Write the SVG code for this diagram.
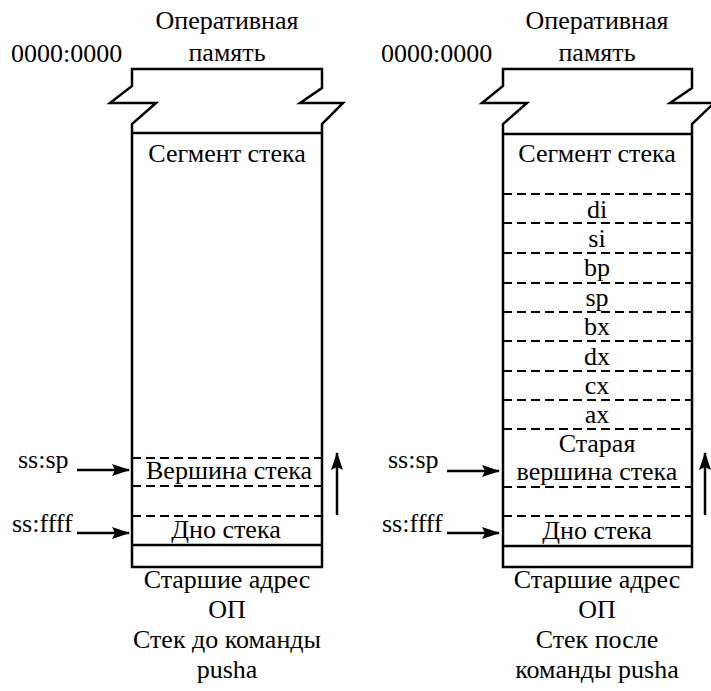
<svg xmlns="http://www.w3.org/2000/svg" width="711" height="691" viewBox="0 0 711 691">
  <defs>
    <marker id="head" viewBox="0 0 18 12" refX="17" refY="6" markerWidth="18" markerHeight="12" markerUnits="userSpaceOnUse" orient="auto">
      <path d="M0,0 L18,6 L0,12 L3,6 Z" fill="#000"/>
    </marker>
  </defs>

  <!-- Stack before PUSHA -->
  <g id="stack-before">
    <g fill="none" stroke="#000" stroke-width="2.5">
      <path d="M132,567 L132,124 L156,103 L110,103 L132,86 L132,69 L322,69 L322,88 L300,103 L343,103 L322,124 L322,567 Z"/>
      <line x1="132" y1="133" x2="322" y2="133"/>
      <line x1="132" y1="545" x2="322" y2="545"/>
    </g>
    <g stroke="#000" stroke-width="2" stroke-dasharray="9 5">
      <line x1="132" y1="458" x2="322" y2="458"/>
      <line x1="132" y1="486" x2="322" y2="486"/>
      <line x1="132" y1="516" x2="322" y2="516"/>
    </g>
    <g font-family="Times New Roman, Liberation Serif, Tinos, serif" font-size="26" fill="#000" text-anchor="middle">
      <text x="227" y="29">Оперативная</text>
      <text x="227" y="61">память</text>
      <text x="227" y="162">Сегмент стека</text>
      <text x="229" y="479">Вершина стека</text>
      <text x="226" y="538">Дно стека</text>
      <text x="227" y="588">Старшие адрес</text>
      <text x="227" y="618">ОП</text>
      <text x="227" y="648">Стек до команды</text>
      <text x="227" y="678">pusha</text>
    </g>
    <text font-family="Times New Roman, Liberation Serif, Tinos, serif" font-size="26" x="11" y="62">0000:0000</text>
  </g>

  <!-- Stack after PUSHA -->
  <g id="stack-after">
    <g fill="none" stroke="#000" stroke-width="2.5">
      <path d="M503,567 L503,124 L527,103 L482,103 L503,86 L503,69 L692,69 L692,88 L670,103 L714,103 L692,124 L692,567 Z"/>
      <line x1="503" y1="134" x2="692" y2="134"/>
      <line x1="503" y1="546" x2="692" y2="546"/>
    </g>
    <g stroke="#000" stroke-width="2" stroke-dasharray="9 5">
      <line x1="503" y1="194" x2="692" y2="194"/>
      <line x1="503" y1="223" x2="692" y2="223"/>
      <line x1="503" y1="253" x2="692" y2="253"/>
      <line x1="503" y1="283" x2="692" y2="283"/>
      <line x1="503" y1="312" x2="692" y2="312"/>
      <line x1="503" y1="341" x2="692" y2="341"/>
      <line x1="503" y1="371" x2="692" y2="371"/>
      <line x1="503" y1="400" x2="692" y2="400"/>
      <line x1="503" y1="429" x2="692" y2="429"/>
      <line x1="503" y1="487" x2="692" y2="487"/>
      <line x1="503" y1="516" x2="692" y2="516"/>
    </g>
    <g font-family="Times New Roman, Liberation Serif, Tinos, serif" font-size="26" fill="#000" text-anchor="middle">
      <text x="597" y="29">Оперативная</text>
      <text x="597" y="61">память</text>
      <text x="597" y="162">Сегмент стека</text>
      <text x="597" y="218">di</text>
      <text x="597" y="247">si</text>
      <text x="597" y="276">bp</text>
      <text x="597" y="306">sp</text>
      <text x="597" y="335">bx</text>
      <text x="597" y="365">dx</text>
      <text x="597" y="394">cx</text>
      <text x="597" y="423">ax</text>
      <text x="597" y="452">Старая</text>
      <text x="597" y="480">вершина стека</text>
      <text x="597" y="539">Дно стека</text>
      <text x="597" y="588">Старшие адрес</text>
      <text x="597" y="618">ОП</text>
      <text x="597" y="648">Стек после</text>
      <text x="597" y="678">команды pusha</text>
    </g>
    <text font-family="Times New Roman, Liberation Serif, Tinos, serif" font-size="26" x="381" y="62">0000:0000</text>
  </g>

  <!-- Pointer labels -->
  <g id="pointers-before" font-family="Times New Roman, Liberation Serif, Tinos, serif" font-size="26" fill="#000">
    <text x="18" y="468">ss:sp</text>
    <text x="12" y="532">ss:ffff</text>
  </g>
  <g id="pointers-after" font-family="Times New Roman, Liberation Serif, Tinos, serif" font-size="26" fill="#000">
    <text x="388" y="468">ss:sp</text>
    <text x="382" y="532">ss:ffff</text>
  </g>

  <!-- Connectors -->
  <g id="connectors" stroke="#000" stroke-width="2.5" marker-end="url(#head)">
    <line x1="77" y1="470" x2="129" y2="470"/>
    <line x1="77" y1="533" x2="129" y2="533"/>
    <line x1="337" y1="515" x2="337" y2="453"/>
    <line x1="447" y1="471" x2="499" y2="471"/>
    <line x1="447" y1="533" x2="499" y2="533"/>
    <line x1="705" y1="515" x2="705" y2="453"/>
  </g>
</svg>
